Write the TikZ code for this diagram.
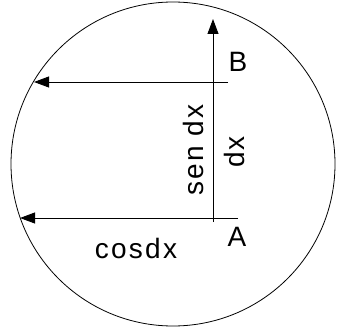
\documentclass[tikz,border=0pt]{standalone}
\usepackage{fontspec}
\setmainfont{Liberation Sans}
\newfontfamily\lab[LetterSpace=8]{Liberation Sans}
\usetikzlibrary{arrows.meta}
\begin{document}
\begin{tikzpicture}[x=1pt,y=1pt,
  ln/.style={line width=0.9pt},
  arr/.style={ln,-{Triangle[length=15pt,width=11pt]}},
  lbl/.style={font=\fontsize{28}{28}\selectfont\lab, inner sep=0pt}]
\useasboundingbox (0,0) rectangle (337,327);
\node[draw, line width=0.8pt, circle, minimum size=324pt, inner sep=0pt] (c) at (173,163) {};
% vertical dx arrow
\coordinate (v0) at (213,105);
\coordinate (v1) at (213,308);
\draw[arr] (v0) -- (v1);
% upper horizontal
\coordinate (b0) at (228,245);
\coordinate (b1) at (34,245);
\draw[arr] (b0) -- (b1);
% lower horizontal
\coordinate (a0) at (238,109);
\coordinate (a1) at (20,109);
\draw[arr] (a0) -- (a1);
% labels
\node[lbl] (B) at (238,265) {B};
\node[lbl] (A) at (237,90) {A};
\node[lbl] (cos) at (136,79) {cosdx};
\node[lbl, rotate=90] (sen) at (193,177) {sen dx};
\node[lbl, rotate=90] (dx) at (234,175) {dx};
\end{tikzpicture}
\end{document}
